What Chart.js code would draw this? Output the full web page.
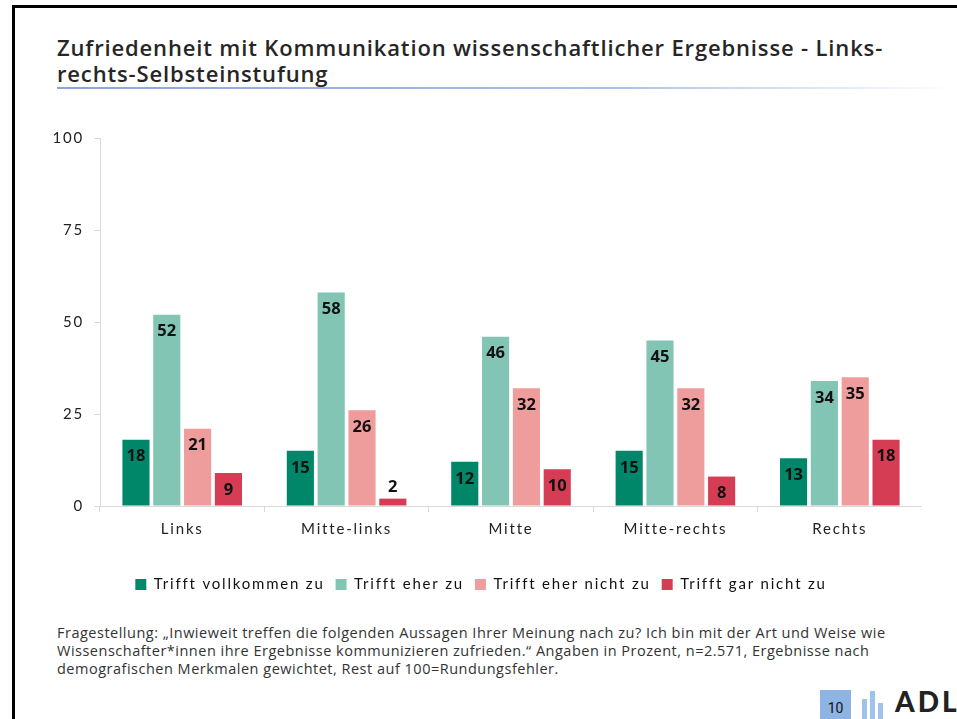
<!DOCTYPE html>
<html>
<head>
<meta charset="utf-8">
<script src="https://cdn.jsdelivr.net/npm/chart.js@4.4.1/dist/chart.umd.min.js"></script>
<style>
  html, body { margin: 0; padding: 0; background: #fff; }
  body { width: 957px; height: 719px; position: relative; overflow: hidden; font-family: Lato, sans-serif; }
  .frame { position: absolute; left: 12px; top: 5px; width: 1000px; height: 800px; border-left: 3px solid #000; border-top: 3px solid #000; }
  .title { position: absolute; left: 57px; top: 34px; width: 890px; font-family: "Open Sans", sans-serif; font-weight: 600; font-size: 22px; letter-spacing: 0.85px; line-height: 26px; color: #262626; white-space: nowrap; }
  .rule { position: absolute; left: 57px; top: 87px; width: 900px; height: 2px; background: linear-gradient(to right, #8aa6d9 0%, #a9bfe6 60%, rgba(255,255,255,0) 100%); }
  #wrap { position: absolute; left: 40px; top: 119px; width: 882px; height: 483px; }
  .note { position: absolute; left: 57px; top: 624px; width: 900px; font-family: "Open Sans", sans-serif; font-size: 14.5px; letter-spacing: 0.5px; line-height: 18px; color: #333; white-space: nowrap; }
  .page { position: absolute; left: 820px; top: 690px; width: 31px; height: 29px; background: #8db4e2; font-family: Roboto, sans-serif; font-size: 14px; line-height: 36px; text-align: center; color: #111; }
  .logo { position: absolute; left: 862px; top: 684px; }
  .logo span { position: absolute; bottom: -35px; width: 5px; background: #9fc3ea; }
  .adl { position: absolute; left: 895px; top: 684px; font-family: Lato, sans-serif; font-weight: 900; font-size: 28px; letter-spacing: 3px; color: #222; }
</style>
</head>
<body>
<div class="frame"></div>
<div class="title">Zufriedenheit mit Kommunikation wissenschaftlicher Ergebnisse - Links-<br>rechts-Selbsteinstufung</div>
<div class="rule"></div>
<div id="wrap"><canvas id="chart"></canvas></div>
<div class="note">Fragestellung: „Inwieweit treffen die folgenden Aussagen Ihrer Meinung nach zu? Ich bin mit der Art und Weise wie<br>Wissenschafter*innen ihre Ergebnisse kommunizieren zufrieden.“ Angaben in Prozent, n=2.571, Ergebnisse nach<br>demografischen Merkmalen gewichtet, Rest auf 100=Rundungsfehler.</div>
<div class="page">10</div>
<div class="logo"><span style="left:0;height:20px"></span><span style="left:8px;height:28px"></span><span style="left:16px;height:16px"></span></div>
<div class="adl">ADL</div>
<script>
const categories = ['Links', 'Mitte-links', 'Mitte', 'Mitte-rechts', 'Rechts'];
const vollkommen = [18, 15, 12, 15, 13];
const eherZu = [52, 58, 46, 45, 34];
const eherNicht = [21, 26, 32, 32, 35];
const garNicht = [9, 2, 10, 8, 18];
const yTicks = [0, 25, 50, 75, 100];

// the source renders axis and legend text spaced out
const spacing = {
  id: 'spacing',
  beforeUpdate(chart) { chart.ctx.letterSpacing = '1.8px'; },
  beforeDraw(chart) { chart.ctx.letterSpacing = '1.8px'; },
};

// draws the value labels, inside the bar top or above it when the bar is short
const valueLabels = {
  id: 'valueLabels',
  afterDatasetsDraw(chart) {
    const ctx = chart.ctx;
    ctx.save();
    ctx.letterSpacing = '0px';
    ctx.font = 'bold 16.5px "Open Sans", sans-serif';
    ctx.fillStyle = '#111';
    ctx.textAlign = 'center';
    ctx.textBaseline = 'middle';
    chart.data.datasets.forEach((ds, i) => {
      chart.getDatasetMeta(i).data.forEach((bar, j) => {
        const v = ds.data[j];
        const y = v < 5 ? bar.y - 11 : bar.y + 17;
        ctx.fillText(v, bar.x, y);
      });
    });
    ctx.restore();
  }
};

const tickFont = { family: 'Lato, sans-serif', size: 15 };

new Chart(document.getElementById('chart'), {
  type: 'bar',
  data: {
    labels: categories,
    datasets: [
      { label: 'Trifft vollkommen zu', data: vollkommen, backgroundColor: '#00876a' },
      { label: 'Trifft eher zu', data: eherZu, backgroundColor: '#82c5b5' },
      { label: 'Trifft eher nicht zu', data: eherNicht, backgroundColor: '#ee9c9c' },
      { label: 'Trifft gar nicht zu', data: garNicht, backgroundColor: '#d53d54' },
    ],
  },
  options: {
    responsive: true,
    maintainAspectRatio: false,
    animation: false,
    categoryPercentage: 0.75,
    barPercentage: 0.88,
    layout: { padding: { top: 8, right: 0, left: 0, bottom: 0 } },
    plugins: {
      legend: {
        position: 'bottom',
        labels: { boxWidth: 11, boxHeight: 11, padding: 11, color: '#111', font: tickFont },
      },
      tooltip: { enabled: false },
    },
    scales: {
      x: {
        grid: { display: true, drawOnChartArea: false, tickLength: 6, color: '#d9d9d9' },
        border: { color: '#d9d9d9' },
        ticks: { padding: 8, color: '#222', font: tickFont },
        afterFit(scale) { scale.height += 20; },
      },
      y: {
        min: 0,
        max: 100,
        afterBuildTicks(scale) { scale.ticks = yTicks.map(v => ({ value: v })); },
        afterFit(scale) { scale.width = 60; },
        grid: { display: true, drawOnChartArea: false, tickLength: 6, color: '#d9d9d9' },
        border: { color: '#d9d9d9' },
        ticks: { padding: 10, color: '#222', font: tickFont },
      },
    },
  },
  plugins: [spacing, valueLabels],
});
</script>
</body>
</html>
